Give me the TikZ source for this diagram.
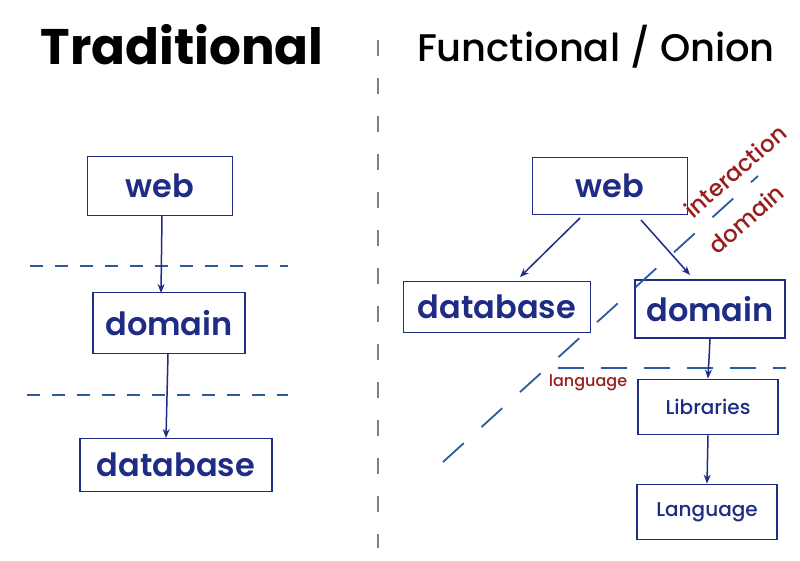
\documentclass[tikz,border=0pt]{standalone}
\usepackage{fontspec}
\setmainfont{Poppins}
\newfontfamily\pmed{Poppins Medium}
\newfontfamily\psemi{Poppins SemiBold}
\usetikzlibrary{arrows.meta}
\definecolor{boxblue}{HTML}{1F2C85}
\definecolor{dashblue}{HTML}{2B5A9E}
\definecolor{labred}{HTML}{9A1C1C}
\definecolor{divgray}{HTML}{808080}
\tikzset{
  box/.style={draw=boxblue, line width=1.8pt, text=boxblue, minimum height=#1, inner sep=0pt, font=\psemi\fontsize{32}{34}\selectfont},
  smallbox/.style={draw=boxblue, line width=1.8pt, text=boxblue, inner sep=0pt, font=\pmed\fontsize{20}{22}\selectfont},
  conn/.style={draw=boxblue, line width=1.5pt, -{Stealth[length=9pt,width=7pt]}},
  sep/.style={draw=dashblue, line width=1.8pt, dash pattern=on 13pt off 12pt},
  sepb/.style={draw=dashblue, line width=1.8pt, dash pattern=on 26pt off 17pt},
  redlab/.style={text=labred, inner sep=0pt},
}
\begin{document}
\begin{tikzpicture}[x=1pt,y=-1pt]
\useasboundingbox[fill=white] (0,0) rectangle (800,561);
% titles
\node[inner sep=0pt, font=\fontsize{50}{52}\selectfont\bfseries] (t1) at (182,45) {Traditional};
\node[inner sep=0pt, font=\pmed\fontsize{38.5}{40}\selectfont] (t2) at (596,47) {Functional / Onion};
% divider
\coordinate (dv1) at (378,40);
\coordinate (dv2) at (378,548);
\draw[divgray, line width=1.5pt, dash pattern=on 16pt off 22pt] (dv1) -- (dv2);

% left side
\node[box=59pt, minimum width=145pt] (lweb) at (160,186) {web};
\node[box=61pt, minimum width=152pt] (ldom) at (169,323) {domain};
\node[box=53pt, minimum width=192pt] (ldb) at (176,465) {database};
\coordinate (ls1a) at (30,266); \coordinate (ls1b) at (288,266);
\coordinate (ls2a) at (27,395); \coordinate (ls2b) at (288,395);
\draw[sep] (ls1a) -- (ls1b);
\draw[sep] (ls2a) -- (ls2b);
\coordinate (lwa) at (162,216);
\coordinate (lda) at (161,293);
\draw[conn] (lwa) -- (lda);
\coordinate (ldb1) at (168,354);
\coordinate (ldb2) at (166,438);
\draw[conn] (ldb1) -- (ldb2);

% right side
\node[box=57pt, minimum width=155pt] (rweb) at (610,186) {web};
\node[box=51pt, minimum width=187pt] (rdb) at (497,307) {database};
\node[box=58pt, minimum width=150pt] (rdom) at (710,309) {domain};
\node[smallbox, minimum height=55pt, minimum width=140pt] (rlib) at (708,407) {Libraries};
\node[smallbox, minimum height=55pt, minimum width=140pt] (rlang) at (707,512) {Language};

\coordinate (rs1a) at (558,368); \coordinate (rs1b) at (786,368);
\draw[sepb] (rs1a) -- (rs1b);
\coordinate (dg1) at (443,462); \coordinate (dg2) at (758,176);
\draw[draw=dashblue, line width=1.8pt, dash pattern=on 28pt off 24pt] (dg1) -- (dg2);

\coordinate (w1) at (580,218); \coordinate (d1) at (520,277);
\coordinate (w2) at (641,220); \coordinate (d2) at (690,275);
\draw[conn] (w1) -- (d1);
\draw[conn] (w2) -- (d2);
\draw[conn] (rdom.south) -- (rlib.north);
\draw[conn] (rlib.south) -- (rlang.north);

\node[redlab, font=\pmed\fontsize{23}{25}\selectfont, rotate=41] (inter) at (735,171) {interaction};
\node[redlab, font=\pmed\fontsize{23}{25}\selectfont, rotate=41] (dom) at (746,219) {domain};
\node[redlab, font=\pmed\fontsize{16}{18}\selectfont] (lang) at (588,383) {language};
\end{tikzpicture}
\end{document}
